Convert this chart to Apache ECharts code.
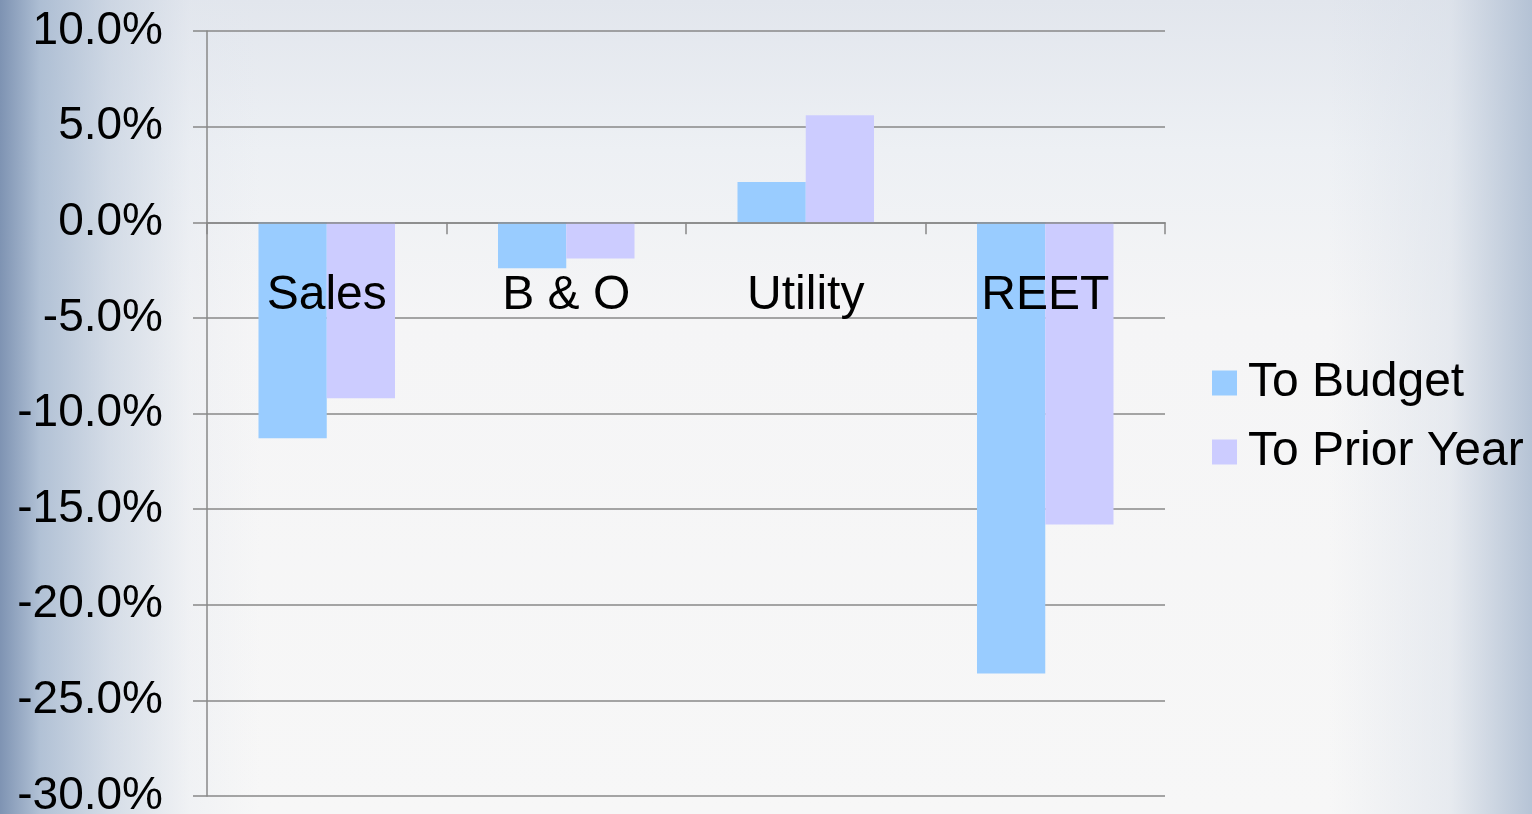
<!DOCTYPE html>
<html>
<head>
<meta charset="utf-8">
<script src="https://cdn.jsdelivr.net/npm/echarts@6/dist/echarts.min.js"></script>
<style>
html,body{margin:0;padding:0;width:1532px;height:814px;overflow:hidden;}
body{
  background:
    linear-gradient(to right, rgba(120,142,175,0.95) 0px, rgba(160,180,205,0.8) 40px, rgba(190,203,220,0.6) 110px, rgba(225,230,238,0.3) 190px, rgba(240,242,246,0) 260px, rgba(240,242,246,0) 1330px, rgba(215,222,232,0.5) 1450px, rgba(175,190,210,0.9) 1532px),
    linear-gradient(to bottom, #e2e6ed 0px, #edf0f4 150px, #f5f5f6 320px, #f7f7f7 814px);
}
#chart{width:1532px;height:814px;}
</style>
</head>
<body>
<div id="chart"></div>
<script>
const categories = ['Sales', 'B & O', 'Utility', 'REET'];
const toBudget = [-11.3, -2.4, 2.1, -23.6];
const toPriorYear = [-9.2, -1.9, 5.6, -15.8];
const seriesNames = ['To Budget', 'To Prior Year'];
const yMin = -30, yMax = 10;

const gridTop = 31, gridBottom = 18, H = 814;
const plotH = H - gridTop - gridBottom;
const zeroOffset = -plotH * (0 - yMin) / (yMax - yMin);

const chart = echarts.init(document.getElementById('chart'), null, {renderer: 'canvas'});
const font = 'Liberation Sans, Arial, sans-serif';
chart.setOption({
  backgroundColor: 'transparent',
  animation: false,
  grid: {left: 207, right: 367, top: gridTop, bottom: gridBottom, containLabel: false, outerBoundsMode: 'none'},
  legend: {
    orient: 'vertical',
    left: 1212,
    top: 359,
    padding: 0,
    itemWidth: 25,
    itemHeight: 25,
    itemGap: 21,
    icon: 'rect',
    data: seriesNames,
    textStyle: {fontSize: 48, fontFamily: font, color: '#000', lineHeight: 48, padding: [0, 0, 0, 6]}
  },
  xAxis: {
    type: 'category',
    data: categories,
    position: 'bottom',
    offset: zeroOffset,
    z: 5,
    axisLine: {onZero: false, lineStyle: {color: '#888', width: 1.5}},
    axisTick: {show: true, length: 12, alignWithLabel: false, lineStyle: {color: '#888', width: 1.5}},
    axisLabel: {fontSize: 48, fontFamily: font, color: '#000', margin: 50},
    splitLine: {show: false}
  },
  yAxis: {
    type: 'value',
    min: yMin,
    max: yMax,
    interval: 5,
    axisLine: {show: true, lineStyle: {color: '#888', width: 1.5}},
    axisTick: {show: true, length: 14, lineStyle: {color: '#888', width: 1.5}},
    axisLabel: {fontSize: 46, fontFamily: font, color: '#000', margin: 44,
      formatter: v => v.toFixed(1) + '%'},
    splitLine: {show: true, lineStyle: {color: '#888', width: 1.5}}
  },
  series: [
    {name: seriesNames[0], type: 'bar', data: toBudget, barGap: '0%', barCategoryGap: '43%',
     itemStyle: {color: '#99CCFF'}},
    {name: seriesNames[1], type: 'bar', data: toPriorYear, barGap: '0%', barCategoryGap: '43%',
     itemStyle: {color: '#CCCCFF'}}
  ]
});
</script>
</body>
</html>
